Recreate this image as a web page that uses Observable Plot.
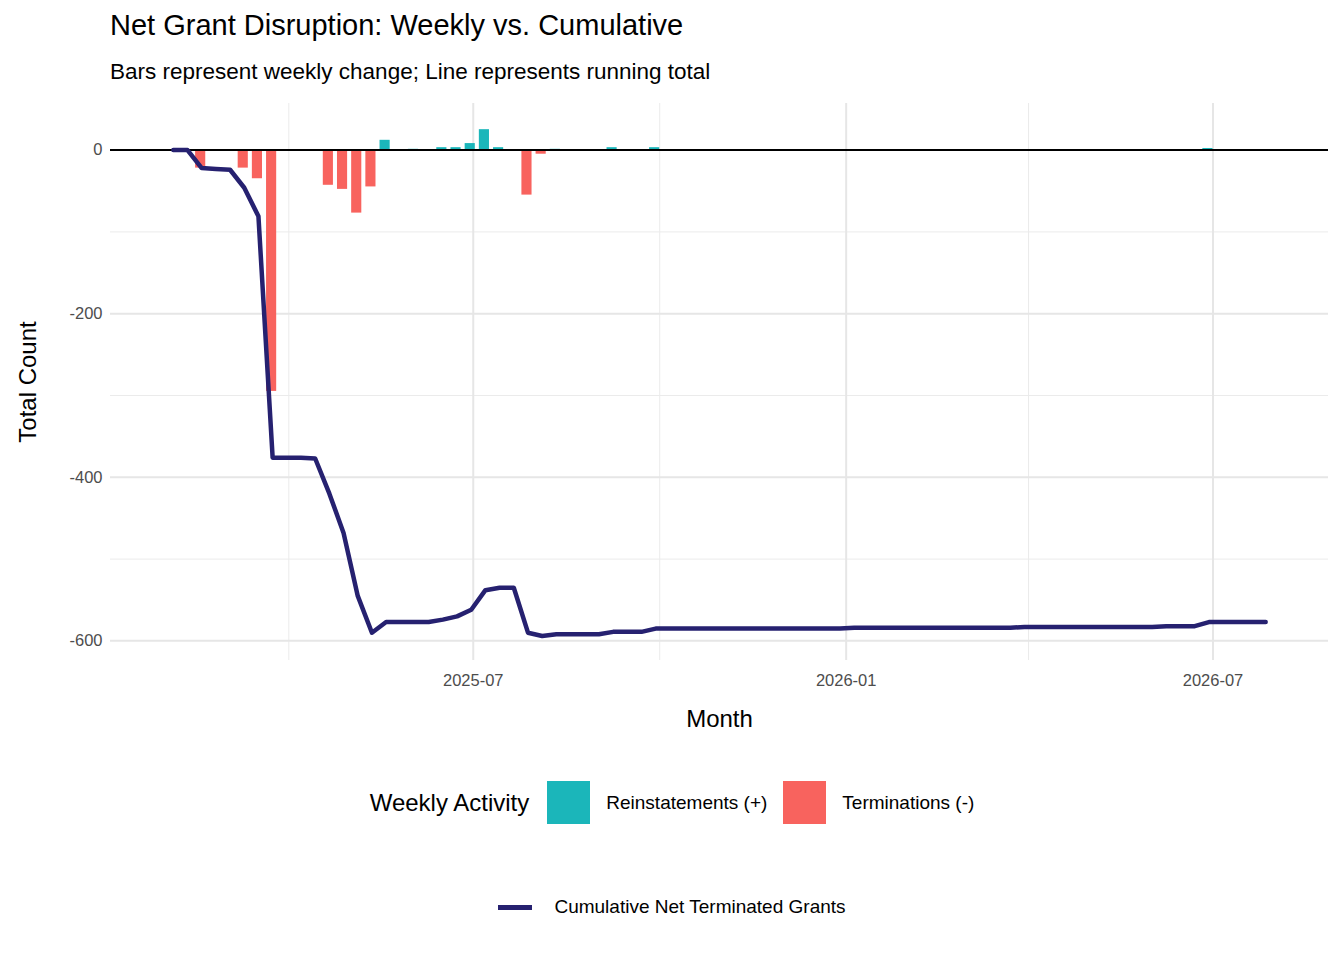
<!DOCTYPE html>
<html><head><meta charset="utf-8">
<script src="https://cdn.jsdelivr.net/npm/d3@7"></script>
<script src="https://cdn.jsdelivr.net/npm/@observablehq/plot@0.6"></script>
<style>
body{margin:0;background:#fff;font-family:"Liberation Sans",Arial,sans-serif;width:1344px}
#hdr{position:relative;height:95px}
#t{position:absolute;left:110px;top:9px;font-size:29px;color:#000}
#s{position:absolute;left:110px;top:59px;font-size:22.5px;color:#000}
#chart{position:relative;height:650px}
#leg1{position:absolute;top:781px;left:0;width:1344px;display:flex;justify-content:center;align-items:center;font-size:19px}
#leg2{position:absolute;top:896px;left:0;width:1344px;display:flex;justify-content:center;align-items:center;font-size:19px}
.sw{width:43px;height:43px;display:inline-block;margin:0 16px 0 16px}
</style></head><body>
<div id="hdr"><div id="t">Net Grant Disruption: Weekly vs. Cumulative</div><div id="s">Bars represent weekly change; Line represents running total</div></div>
<div id="chart"></div>
<div id="leg1"><span style="font-size:24px;margin-right:2px">Weekly Activity</span><span class="sw" style="background:#1BB6BA"></span><span>Reinstatements (+)</span><span class="sw" style="background:#F8635E;margin-left:16px"></span><span>Terminations (-)</span></div>
<div id="leg2"><span style="display:inline-block;width:34px;height:5px;background:#262170;margin-right:22px"></span><span>Cumulative Net Terminated Grants</span></div>
<script>
const startWeek = "2025-02-03";
const cumulative = [0,0,-22,-23,-24,-46,-81,-376,
 -376,-376,-377,-420,-468,-545,-590,
 -577,-577,-577,-577,-574,-570,-562,-538,-535,-535,
 -590,-594,-592,-592,-592,-592,-589,-589,-589,-585,
 -585,-585,-585,-585,-585,-585,-585,-585,-585,-585,-585,-585,-585,
 -584,-584,-584,-584,-584,-584,-584,-584,-584,-584,-584,-584,
 -583,-583,-583,-583,-583,-583,-583,-583,-583,-583,
 -582,-582,-582,
 -577,-577,-577,-577,-577];
const barWeeks  = [2,5,6,7,11,12,13,14,15,17,19,20,21,22,23,25,26,27,31,34,73];
const barValues = [-22,-22,-35,-295,-43,-48,-77,-45,12,1,3,3,8,25,3,-55,-5,1,3,3,2];

const d0 = new Date(startWeek);
const wk = i => d3.utcWeek.offset(d0, i);
const lineData = cumulative.map((v,i)=>({date:wk(i), v}));
const barData = barWeeks.map((w,j)=>({x1:d3.utcDay.offset(wk(w),-2.7), x2:d3.utcDay.offset(wk(w),2.7), v:barValues[j], type: barValues[j]>=0?"Reinstatements (+)":"Terminations (-)"}));

const majorX = [new Date("2025-07-01"),new Date("2026-01-01"),new Date("2026-07-01")];
const minorX = [new Date("2025-04-01"),new Date("2025-10-01"),new Date("2026-04-01")];

const plot = Plot.plot({
  width:1344, height:650,
  marginLeft:110, marginRight:16, marginTop:8, marginBottom:85,
  style:{fontFamily:"Liberation Sans, Arial, sans-serif", fontSize:"16.5px", color:"#4d4d4d", background:"#fff"},
  x:{type:"utc", domain:[new Date("2025-01-03"), new Date("2026-08-27")], ticks:majorX, tickFormat:d3.utcFormat("%Y-%m"), tickSize:0, tickPadding:14, label:"Month", labelArrow:"none", labelAnchor:"center", labelOffset:66},
  y:{domain:[-624,57], ticks:[-600,-400,-200,0], tickFormat:d=>String(d), tickSize:0, tickPadding:8, label:"Total Count", labelArrow:"none", labelAnchor:"center", labelOffset:92},
  color:{domain:["Reinstatements (+)","Terminations (-)"], range:["#1BB6BA","#F8635E"]},
  marks:[
    Plot.ruleY([-500,-300,-100],{stroke:"#ebebeb", strokeWidth:1}),
    Plot.ruleX(minorX,{stroke:"#ebebeb", strokeWidth:1}),
    Plot.ruleY([-600,-400,-200,0],{stroke:"#e6e6e6", strokeWidth:2}),
    Plot.ruleX(majorX,{stroke:"#e6e6e6", strokeWidth:2}),
    Plot.rectY(barData,{x1:"x1", x2:"x2", y1:0, y2:"v", fill:"type"}),
    Plot.ruleY([0],{stroke:"#000", strokeWidth:2}),
    Plot.line(lineData,{x:"date", y:"v", stroke:"#262170", strokeWidth:4.5}),
  ]
});
plot.querySelectorAll("[aria-label='x-axis label'] text, [aria-label='y-axis label'] text").forEach(t=>{t.style.fontSize="24px";t.style.fill="#000";});
document.getElementById("chart").appendChild(plot);
</script>
</body></html>
